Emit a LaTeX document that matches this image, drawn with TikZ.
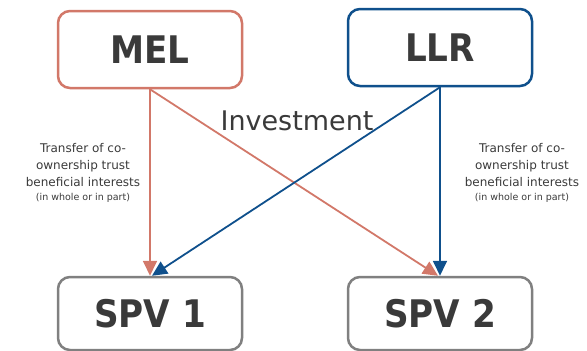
\documentclass[tikz,border=0pt]{standalone}
\usepackage{fontspec}
\setmainfont{DejaVu Sans}
\usetikzlibrary{arrows.meta}
\definecolor{melred}{HTML}{D27869}
\definecolor{llrblue}{HTML}{0F508C}
\definecolor{boxgray}{HTML}{808080}
\definecolor{txt}{HTML}{3A3A3A}
\begin{document}
\begin{tikzpicture}[x=1pt,y=-1pt,
  entity/.style={draw, line width=2.5pt, rounded corners=12pt, fill=white,
    minimum width=184pt, inner sep=0pt, text=txt,
    font=\fontsize{38}{40}\selectfont\bfseries},
  conn/.style={line width=1.8pt, -{Triangle[length=15pt,width=14pt]}},
  note/.style={align=center, inner sep=0pt, text=txt,
    font=\fontsize{12}{17}\selectfont}
]
\useasboundingbox (0,0) rectangle (587,351);
\node[entity, draw=melred, minimum height=77pt] (mel) at (150,49.5) {\scalebox{0.9}[1]{MEL}};
\node[entity, draw=llrblue, minimum height=77pt] (llr) at (440,47.5) {\scalebox{0.9}[1]{LLR}};
\node[entity, draw=boxgray, minimum height=73pt] (spv1) at (150,313.5) {\scalebox{0.9}[1]{SPV 1}};
\node[entity, draw=boxgray, minimum height=73pt] (spv2) at (440,313.5) {\scalebox{0.9}[1]{SPV 2}};
\draw[conn, melred] (mel.south) -- (spv1.north);
\draw[conn, melred] (mel.south) -- ([xshift=-2pt]spv2.north);
\draw[conn, llrblue] (llr.south) -- ([xshift=2pt]spv1.north);
\draw[conn, llrblue] (llr.south) -- (spv2.north);
\node[text=txt, inner sep=0pt, anchor=base, font=\fontsize{27}{30}\selectfont] (inv) at (297,130) {Investment};
\node[note, anchor=north] (ln) at (83,143.5) {Transfer of co-\\ownership trust\\beneficial interests\\[-3pt]{\fontsize{9.5}{12}\selectfont (in whole or in part)}};
\node[note, anchor=north] (rn) at (522,143.5) {Transfer of co-\\ownership trust\\beneficial interests\\[-3pt]{\fontsize{9.5}{12}\selectfont (in whole or in part)}};
\end{tikzpicture}
\end{document}
